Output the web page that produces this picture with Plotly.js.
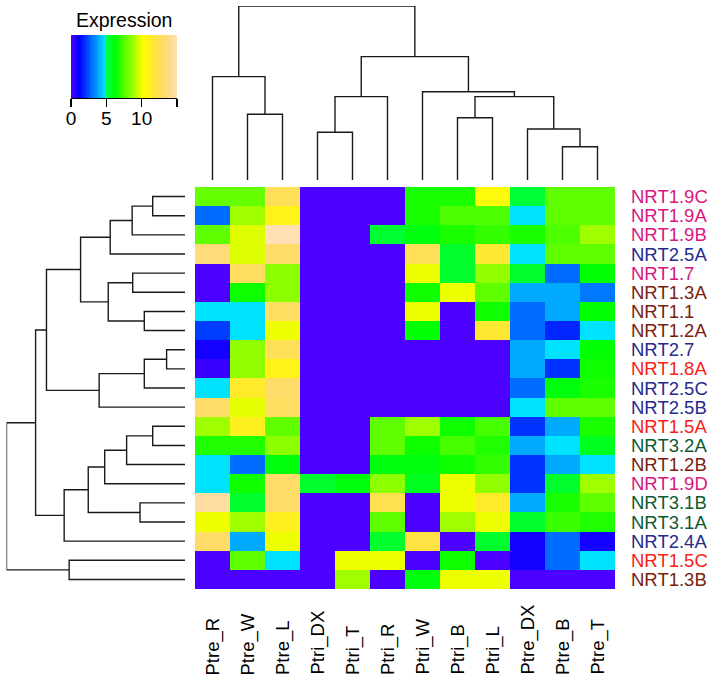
<!DOCTYPE html>
<html><head><meta charset="utf-8">
<script src="https://cdn.plot.ly/plotly-3.0.1.min.js"></script>
<style>html,body{margin:0;padding:0;background:#fff}#chart{width:712px;height:684px}</style>
</head><body><div id="chart"></div>
<script>
// ---------- data ----------
const samples = ['Ptre_R','Ptre_W','Ptre_L','Ptri_DX','Ptri_T','Ptri_R','Ptri_W','Ptri_B','Ptri_L','Ptre_DX','Ptre_B','Ptre_T'];
const genes = ['NRT1.9C','NRT1.9A','NRT1.9B','NRT2.5A','NRT1.7','NRT1.3A','NRT1.1','NRT1.2A','NRT2.7','NRT1.8A','NRT2.5C','NRT2.5B','NRT1.5A','NRT3.2A','NRT1.2B','NRT1.9D','NRT3.1B','NRT3.1A','NRT2.4A','NRT1.5C','NRT1.3B'];
const geneGroup = ['g19','g19','g19','g2','g19','g12','g12','g12','g2','g15','g2','g2','g15','g3','g12','g19','g3','g3','g2','g15','g12'];
const expr = [
  [7.9, 7.9,12.5,0,  0,  0,   6.7, 6.7,10.5,5.4,7.8,7.8],
  [2.9, 8.8,10.8,0,  0,  0,   6.7, 7.5, 7.5,4.8,7.8,7.8],
  [7.8, 9.8,15,  0,  0,  5.5, 6.1, 6.7, 7.1,6.7,7.5,8.8],
  [13.5,9.8,13,  0,  0,  0,  12.5, 5.6,11.5,4.8,7.8,7.8],
  [0,  12.8, 8.5,0,  0,  0,  10,   5.6, 8.6,5.6,2.9,6.3],
  [0,   6.5, 8.5,0,  0,  0,   6.5,10,   7.8,3.9,3.9,3.1],
  [4.8, 4.8,12.8,0,  0,  0,  10,   0,   6.5,2.9,3.9,6.3],
  [2.2, 4.8,10,  0,  0,  0,   6.3, 0,  11.5,2.9,1.8,4.8],
  [0.9, 8.6,12.5,0,  0,  0,   0,   0,   0,  3.9,4.8,6.3],
  [0.3, 8.6,10.8,0,  0,  0,   0,   0,   0,  3.9,2.0,6.5],
  [4.8,11.3,13,  0,  0,  0,   0,   0,   0,  2.9,6.1,6.7],
  [13,  9.9,12.8,0,  0,  0,   0,   0,   0,  4.8,7.8,7.8],
  [8.8,11,   7.8,0,  0,  7.8, 8.8, 6.5, 7.4,2.0,3.9,6.7],
  [6.8, 6.8, 8.5,0,  0,  7.8, 6.5, 7.4, 6.8,3.9,4.8,5.8],
  [4.8, 2.9, 6.1,0,  0,  6.1, 6.1, 6.5, 7.1,2.0,3.9,4.8],
  [4.8, 6.5,13,  5.6,6.1,8.5, 5.8,10,   8.6,2.0,5.6,8.8],
  [14.5,5.6,13,  0,  0, 12.3, 0,  10,  11.3,3.9,6.7,7.8],
  [10,  8.8,11,  0,  0,  7.8, 0,   8.8,10,  5.6,7.2,6.8],
  [13,  3.9,10,  0,  0,  5.6,12,   0,   5.6,0.9,2.9,0.9],
  [0,   7.8, 4.8,0, 10, 10,   0,   6.5, 0,  0.9,2.9,4.8],
  [0,   0,   0,  0,  8.8,0,   6.1,10,  10,  0,  0,  0]
];
// hclust-style merges: negative = leaf (1-based), positive = earlier cluster
const colMerge = [[-2,-3],[-1,1],[-4,-5],[3,-6],[-8,-9],[-11,-12],[-10,6],[5,7],[-7,8],[4,9],[2,10]];
const colHeight = [0.378,0.594,0.274,0.479,0.358,0.191,0.293,0.479,0.507,0.709,1.0];
const rowMerge = [[-1,-2],[1,-3],[2,-4],[-5,-6],[-7,-8],[4,5],[3,6],[-9,-10],[8,-11],[9,-12],[7,10],
                  [-13,-14],[12,-15],[13,-16],[-17,-18],[14,15],[16,-19],[11,17],[-20,-21],[18,19]];
const rowHeight = [0.181,0.296,0.419,0.293,0.228,0.430,0.585,0.103,0.228,0.481,0.776,
                   0.181,0.327,0.450,0.252,0.542,0.677,0.837,0.649,1.0];
const keyMin = 0, keyMax = 15;
const keyTicks = [0,5,10,15];
const keyTickText = ['0','5','10',''];

// ---------- styles ----------
const groupColor = {g19:'#D8167E', g2:'#272A8C', g12:'#7A1E0E', g15:'#F71E16', g3:'#0E5A2F'};
const FONT = 'Liberation Sans, Arial, Helvetica, sans-serif';
const W = 712, H = 684;
const hmX0 = 195, hmX1 = 615, hmY0 = 187, hmY1 = 589;

// topo.colors (R) replica
function hsv2rgb(h, s, v) {
  const i = Math.floor(h * 6) % 6, f = h * 6 - Math.floor(h * 6);
  const p = v * (1 - s), q = v * (1 - f * s), t = v * (1 - (1 - f) * s);
  const m = [[v,t,p],[q,v,p],[p,v,t],[p,q,v],[t,p,v],[v,p,q]][i];
  return 'rgb(' + m.map(c => Math.round(c * 255)).join(',') + ')';
}
function seq(a, b, n) { const r = []; for (let i = 0; i < n; i++) r.push(n === 1 ? a : a + (b - a) * i / (n - 1)); return r; }
function topo(n) {
  const j = Math.floor(n / 3), k = Math.floor(n / 3), i = n - j - k;
  const cols = [];
  seq(43/60, 31/60, i).forEach(h => cols.push(hsv2rgb(h, 1, 1)));
  seq(23/60, 11/60, j).forEach(h => cols.push(hsv2rgb(h, 1, 1)));
  const hs = seq(10/60, 6/60, k), ss = seq(1, 0.3, k);
  hs.forEach((h, idx) => cols.push(hsv2rgb(h, ss[idx], 1)));
  return cols;
}
const NC = 60;
const topoCols = topo(NC);
const colorscale = topoCols.map((c, i) => [i / (NC - 1), c]);

// dendrogram segments
function dendro(merge, height) {
  const pos = [], hgt = [];
  const P = id => id < 0 ? (-id - 1) : pos[id - 1];
  const Hh = id => id < 0 ? 0 : hgt[id - 1];
  const segs = [];
  merge.forEach((m, k) => {
    const [a, b] = m, h = height[k];
    const pa = P(a), pb = P(b);
    segs.push([[pa, Hh(a)], [pa, h], [pb, h], [pb, Hh(b)]]);
    pos.push((pa + pb) / 2); hgt.push(h);
  });
  return segs;
}
const colSegs = dendro(colMerge, colHeight);
const rowSegs = dendro(rowMerge, rowHeight);
const cx = [], cy = [];
colSegs.forEach(s => { s.forEach(p => { cx.push(p[0]); cy.push(p[1]); }); cx.push(null); cy.push(null); });
const rx = [], ry = [];
rowSegs.forEach(s => { s.forEach(p => { rx.push(p[1]); ry.push(p[0]); }); rx.push(null); ry.push(null); });

const colIdx = samples.map((_, i) => i);
const rowIdx = genes.map((_, i) => i);

// key ramp
const keyX = [], keyZ = [];
for (let i = 0; i < NC; i++) { const v = keyMin + (i + 0.5) * (keyMax - keyMin) / NC; keyX.push(v); keyZ.push(v); }

const lineStyle = {color: '#1a1a1a', width: 1.4};
const traces = [
  {type: 'heatmap', z: expr, x: colIdx, y: rowIdx, colorscale: colorscale, zmin: keyMin, zmax: keyMax,
   showscale: false, hoverinfo: 'skip', xaxis: 'x', yaxis: 'y'},
  {type: 'scatter', mode: 'lines', x: cx, y: cy, line: lineStyle, hoverinfo: 'skip', xaxis: 'x2', yaxis: 'y2', showlegend: false},
  {type: 'scatter', mode: 'lines', x: rx, y: ry, line: lineStyle, hoverinfo: 'skip', xaxis: 'x3', yaxis: 'y3', showlegend: false},
  {type: 'heatmap', z: [keyZ], x: keyX, y: [0], colorscale: colorscale, zmin: keyMin, zmax: keyMax,
   showscale: false, hoverinfo: 'skip', xaxis: 'x4', yaxis: 'y4'}
];

const fx = px => px / W, fy = py => 1 - py / H;
const hidden = {visible: false, fixedrange: true};
const annotations = [];
genes.forEach((g, i) => annotations.push({
  text: g, x: fx(629), xref: 'paper', xanchor: 'left', y: i, yref: 'y', yanchor: 'middle',
  showarrow: false, font: {family: FONT, size: 18.5, color: groupColor[geneGroup[i]]}
}));
samples.forEach((s, i) => annotations.push({
  text: s, x: i, xref: 'x', xanchor: 'center', y: fy(677), yref: 'paper', yanchor: 'bottom',
  textangle: -90, showarrow: false, font: {family: FONT, size: 18.5, color: '#000'}
}));
annotations.push({text: 'Expression', x: fx(124), xref: 'paper', xanchor: 'center', y: fy(20), yref: 'paper',
  yanchor: 'middle', showarrow: false, font: {family: FONT, size: 19.5, color: '#000'}});

const layout = {
  width: W, height: H, margin: {l: 0, r: 0, t: 0, b: 0}, paper_bgcolor: '#fff', plot_bgcolor: '#fff',
  showlegend: false, font: {family: FONT, size: 18, color: '#000'},
  xaxis: Object.assign({domain: [fx(hmX0), fx(hmX1)], range: [-0.5, samples.length - 0.5], anchor: 'y'}, hidden),
  yaxis: Object.assign({domain: [fy(hmY1), fy(hmY0)], range: [genes.length - 0.5, -0.5], anchor: 'x'}, hidden),
  xaxis2: Object.assign({domain: [fx(hmX0), fx(hmX1)], range: [-0.5, samples.length - 0.5], anchor: 'y2'}, hidden),
  yaxis2: Object.assign({domain: [fy(180), fy(6)], range: [0, 1], anchor: 'x2'}, hidden),
  xaxis3: Object.assign({domain: [fx(6.5), fx(185)], range: [1, 0], anchor: 'y3'}, hidden),
  yaxis3: Object.assign({domain: [fy(hmY1), fy(hmY0)], range: [genes.length - 0.5, -0.5], anchor: 'x3'}, hidden),
  xaxis4: {domain: [fx(71), fx(177)], range: [keyMin, keyMax], anchor: 'y4', fixedrange: true,
           tickmode: 'array', tickvals: keyTicks, ticktext: keyTickText, ticks: 'outside', ticklen: 8,
           ticklabelstandoff: -5,
           tickwidth: 1.3, tickcolor: '#000', showline: true, linecolor: '#000', linewidth: 1.3,
           showgrid: false, zeroline: false, tickfont: {family: FONT, size: 19, color: '#000'}},
  yaxis4: Object.assign({domain: [fy(98), fy(35)], range: [-0.5, 0.5], anchor: 'x4'}, hidden),
  annotations: annotations
};
Plotly.newPlot('chart', traces, layout, {staticPlot: true, displayModeBar: false});
</script></body></html>
